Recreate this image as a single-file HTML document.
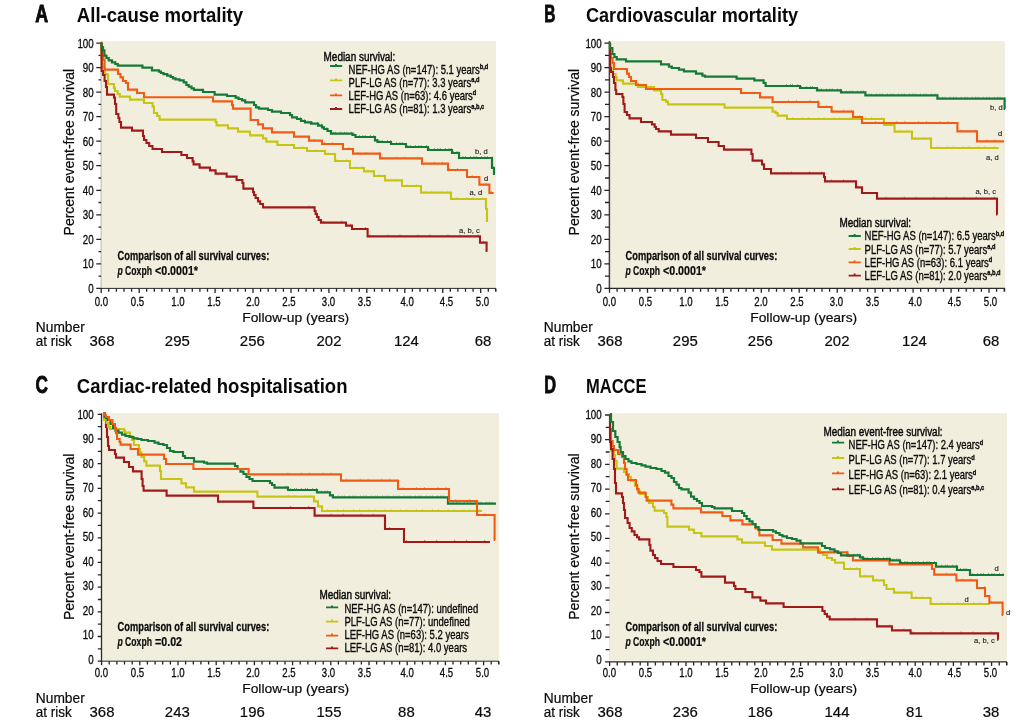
<!DOCTYPE html>
<html><head><meta charset="utf-8"><title>Survival curves</title>
<style>html,body{margin:0;padding:0;background:#fff}svg{display:block}text{font-family:"Liberation Sans",Arial,sans-serif}</style>
</head><body>
<svg width="1030" height="722" viewBox="0 0 1030 722">
<rect width="1030" height="722" fill="#fff"/>
<g>
<rect x="101.2" y="41.0" width="394.8" height="247.4" fill="#f2eedd"/>
<path d="M101.1 41.0V288.4" fill="none" stroke="#8f887f" stroke-width="0.6"/>
<path d="M100.8 288.4H496.0" fill="none" stroke="#2e2a28" stroke-width="1.0"/>
<path d="M101.1 288.4h-4.8M101.1 276.1h-2.6M101.1 263.9h-4.8M101.1 251.6h-2.6M101.1 239.3h-4.8M101.1 227.1h-2.6M101.1 214.8h-4.8M101.1 202.5h-2.6M101.1 190.3h-4.8M101.1 178.0h-2.6M101.1 165.7h-4.8M101.1 153.5h-2.6M101.1 141.2h-4.8M101.1 129.0h-2.6M101.1 116.7h-4.8M101.1 104.4h-2.6M101.1 92.2h-4.8M101.1 79.9h-2.6M101.1 67.6h-4.8M101.1 55.4h-2.6M101.1 43.1h-4.8M101.2 288.4v4.5M108.8 288.4v3.4M116.4 288.4v3.4M124.0 288.4v3.4M131.6 288.4v3.4M139.2 288.4v4.5M146.7 288.4v3.4M154.3 288.4v3.4M161.9 288.4v3.4M169.5 288.4v3.4M177.1 288.4v4.5M184.7 288.4v3.4M192.3 288.4v3.4M199.9 288.4v3.4M207.5 288.4v3.4M215.1 288.4v4.5M222.6 288.4v3.4M230.2 288.4v3.4M237.8 288.4v3.4M245.4 288.4v3.4M253.0 288.4v4.5M260.6 288.4v3.4M268.2 288.4v3.4M275.8 288.4v3.4M283.4 288.4v3.4M291.0 288.4v4.5M298.5 288.4v3.4M306.1 288.4v3.4M313.7 288.4v3.4M321.3 288.4v3.4M328.9 288.4v4.5M336.5 288.4v3.4M344.1 288.4v3.4M351.7 288.4v3.4M359.3 288.4v3.4M366.8 288.4v4.5M374.4 288.4v3.4M382.0 288.4v3.4M389.6 288.4v3.4M397.2 288.4v3.4M404.8 288.4v4.5M412.4 288.4v3.4M420.0 288.4v3.4M427.6 288.4v3.4M435.2 288.4v3.4M442.8 288.4v4.5M450.3 288.4v3.4M457.9 288.4v3.4M465.5 288.4v3.4M473.1 288.4v3.4M480.7 288.4v4.5M488.3 288.4v3.4M495.9 288.4v3.4M495.6 288.4v3.2" fill="none" stroke="#262322" stroke-width="1.3"/>
<clipPath id="cpA"><rect x="298.5" y="41.0" width="394.8" height="247.4"/></clipPath>
<path d="M101.6 42.4V58.0H102.2V64.0H103.0V68.0H104.0H105.0V74.0H106.0H107.0V74.6H108.0V84.0H109.0H114.0V88.0H115.0V91.0H116.6H117.6V94.0H118.6H119.8V96.6H121.0H130.0V99.6H131.0H144.0V103.0H145.4H152.6V106.6H154.0V113.0H155.6H157.1V116.0H158.6H159.6V119.6H160.6H215.6V122.0H216.6V125.4H218.0H228.0V128.4H229.4H238.0V131.6H239.0H250.0V135.4H251.0H263.0V138.4H264.6H266.3V141.6H268.0H277.4V145.0H278.6H294.0V148.0H295.0H307.0V151.0H308.0H325.0V154.0H326.0H334.0H335.0V161.0H336.0H350.0V168.0H351.4H364.0V171.4H365.0H374.0V176.0H375.4H385.0V180.4H386.0H402.0V186.0H403.0H421.0V192.6H422.0H451.0V199.0H451.6H486.0V209.0H487.0V221.0H488.0" fill="none" stroke="#c6c516" stroke-width="2.1" stroke-linejoin="miter"/>
<path d="M101.6 42.4V58.0H102.2V64.0H103.0V68.0H104.0H105.0V74.0H106.0H107.0V74.6H108.0V84.0H109.0H114.0V88.0H115.0V91.0H116.6H117.6V94.0H118.6H119.8V96.6H121.0H130.0V99.6H131.0H144.0V103.0H145.4H152.6V106.6H154.0V113.0H155.6H157.1V116.0H158.6H159.6V119.6H160.6H215.6V122.0H216.6V125.4H218.0H228.0V128.4H229.4H238.0V131.6H239.0H250.0V135.4H251.0H263.0V138.4H264.6H266.3V141.6H268.0H277.4V145.0H278.6H294.0V148.0H295.0H307.0V151.0H308.0H325.0V154.0H326.0H334.0H335.0V161.0H336.0H350.0V168.0H351.4H364.0V171.4H365.0H374.0V176.0H375.4H385.0V180.4H386.0H402.0V186.0H403.0H421.0V192.6H422.0H451.0V199.0H451.6H486.0V209.0H487.0V221.0H488.0" transform="translate(0 -1.3)" clip-path="url(#cpA)" fill="none" stroke="#c6c516" stroke-width="1" stroke-dasharray="0.7 5.3 0.7 9.1"/>
<path d="M101.6 42.4V50.0H102.6V56.0H103.4V60.0H104.6V69.6H105.4H118.0V74.0H119.0H120.5V77.4H122.0H123.0V81.0H124.0H126.0V83.0H128.0V89.6H129.0H137.0V93.0H138.0H144.0V97.2H145.0H213.0V101.4H214.0H232.0V105.0H233.0V108.6H234.4H250.6V120.0H251.6H258.0V124.4H259.0H263.0V128.4H264.0H272.0V132.4H273.0H294.0V136.6H295.0H309.0V140.6H310.0H322.0V144.0H323.0H343.0V149.0H344.0H353.0V153.6H354.0H380.0V158.4H381.0H422.0V163.6H423.0H448.0V170.0H449.0H467.0V177.0H468.0H479.4V184.6H480.4H489.4V193.0H490.4H493.6" fill="none" stroke="#f05c14" stroke-width="2.1" stroke-linejoin="miter"/>
<path d="M101.6 42.4V50.0H102.6V56.0H103.4V60.0H104.6V69.6H105.4H118.0V74.0H119.0H120.5V77.4H122.0H123.0V81.0H124.0H126.0V83.0H128.0V89.6H129.0H137.0V93.0H138.0H144.0V97.2H145.0H213.0V101.4H214.0H232.0V105.0H233.0V108.6H234.4H250.6V120.0H251.6H258.0V124.4H259.0H263.0V128.4H264.0H272.0V132.4H273.0H294.0V136.6H295.0H309.0V140.6H310.0H322.0V144.0H323.0H343.0V149.0H344.0H353.0V153.6H354.0H380.0V158.4H381.0H422.0V163.6H423.0H448.0V170.0H449.0H467.0V177.0H468.0H479.4V184.6H480.4H489.4V193.0H490.4H493.6" transform="translate(0 -1.3)" clip-path="url(#cpA)" fill="none" stroke="#f05c14" stroke-width="1" stroke-dasharray="0.7 7.3 0.7 12.9"/>
<path d="M101.6 42.4V68.0V71.0H103.0V75.0H104.6V81.0H106.0V87.0H107.0V94.6H108.0H114.0V97.6H115.0V104.0H116.2V114.0H117.4H118.4V118.0H119.4V122.0H121.0V127.6H122.4H132.0V130.6H133.0H143.0V136.0H144.0V140.0H145.4H146.4V143.0H147.4H149.2V146.0H151.0H152.5V149.0H154.0H162.0V152.0H163.0H181.4V155.0H182.6H187.0V158.0H188.0H192.6V161.4H193.6V164.4H194.6H199.6V167.6H200.6H210.0V170.4H211.0H215.6V173.6H216.6H226.6V176.6H227.6H236.6V180.0H237.6H242.4V183.0H243.4V188.6H244.4H253.0V192.0H254.0V195.0H255.6V198.0H257.0H258.0V201.4H259.0H260.2V204.0H261.4H263.0V207.4H264.6H295.0H314.6V211.0H315.6V214.0H317.0V217.0H318.6V220.0H320.0H321.0V222.6H322.0H346.0V225.6H347.0H352.0V229.0H353.0H367.6V236.4H368.6H480.0V242.6H481.0H486.6V251.0H487.4" fill="none" stroke="#a11a1a" stroke-width="2.1" stroke-linejoin="miter"/>
<path d="M101.6 42.4V68.0V71.0H103.0V75.0H104.6V81.0H106.0V87.0H107.0V94.6H108.0H114.0V97.6H115.0V104.0H116.2V114.0H117.4H118.4V118.0H119.4V122.0H121.0V127.6H122.4H132.0V130.6H133.0H143.0V136.0H144.0V140.0H145.4H146.4V143.0H147.4H149.2V146.0H151.0H152.5V149.0H154.0H162.0V152.0H163.0H181.4V155.0H182.6H187.0V158.0H188.0H192.6V161.4H193.6V164.4H194.6H199.6V167.6H200.6H210.0V170.4H211.0H215.6V173.6H216.6H226.6V176.6H227.6H236.6V180.0H237.6H242.4V183.0H243.4V188.6H244.4H253.0V192.0H254.0V195.0H255.6V198.0H257.0H258.0V201.4H259.0H260.2V204.0H261.4H263.0V207.4H264.6H295.0H314.6V211.0H315.6V214.0H317.0V217.0H318.6V220.0H320.0H321.0V222.6H322.0H346.0V225.6H347.0H352.0V229.0H353.0H367.6V236.4H368.6H480.0V242.6H481.0H486.6V251.0H487.4" transform="translate(0 -1.3)" clip-path="url(#cpA)" fill="none" stroke="#a11a1a" stroke-width="1" stroke-dasharray="0.7 11.3 0.7 17.3"/>
<path d="M101.6 42.4V47.0H103.0V50.4H104.4V55.6H105.4H106.4V58.0H107.4H108.7V60.4H110.0H112.0V62.4H114.0H115.3V64.0H116.6H117.8V65.6H119.0H142.4V67.6H143.0H152.0V70.4H152.6H159.0V71.6H160.0H161.0V73.0H162.0H163.5V74.2H165.0H167.2V75.6H169.4H170.7V77.0H172.0H173.0V78.4H174.0H175.5V79.4H177.0H179.5V80.4H182.0H183.7V82.4H185.4H186.4V85.0H187.4H188.7V86.6H190.0H191.5V88.4H193.0H194.0V89.8H195.0H203.0V92.0H204.0H214.6V94.6H216.0H227.0V96.0H228.6H235.6V97.6H237.0H238.5V99.0H240.0H242.0V100.4H244.0H245.2V102.4H246.4H254.0V105.0H255.0H256.0V107.4H257.0H259.0V108.6H261.0H265.0H268.0V110.0H271.0H272.0V111.6H273.0H280.0H281.0V113.0H282.0H290.0V115.0H291.0H292.0V117.4H293.0H295.0H297.0V119.0H299.0H301.0V121.0H303.0H305.0V122.4H307.0H311.0V123.6H315.0H318.0V125.6H321.0H322.0V127.3H324.0V129.0H325.0H327.5V131.0H330.0H331.0V133.6H332.0H351.0H352.5V135.0H354.0H355.5V137.0H357.0H374.0H375.0V140.4H376.0H377.5V142.0H379.0H391.0V144.0H392.0H405.0H406.0V147.0H407.0H427.0H428.0V150.0H429.0H451.0H452.0V153.0H453.0H459.0V158.0H460.6H492.0V168.0H493.0H494.0V174.0H495.0" fill="none" stroke="#147a36" stroke-width="2.2" stroke-linejoin="miter"/>
<path d="M101.6 42.4V47.0H103.0V50.4H104.4V55.6H105.4H106.4V58.0H107.4H108.7V60.4H110.0H112.0V62.4H114.0H115.3V64.0H116.6H117.8V65.6H119.0H142.4V67.6H143.0H152.0V70.4H152.6H159.0V71.6H160.0H161.0V73.0H162.0H163.5V74.2H165.0H167.2V75.6H169.4H170.7V77.0H172.0H173.0V78.4H174.0H175.5V79.4H177.0H179.5V80.4H182.0H183.7V82.4H185.4H186.4V85.0H187.4H188.7V86.6H190.0H191.5V88.4H193.0H194.0V89.8H195.0H203.0V92.0H204.0H214.6V94.6H216.0H227.0V96.0H228.6H235.6V97.6H237.0H238.5V99.0H240.0H242.0V100.4H244.0H245.2V102.4H246.4H254.0V105.0H255.0H256.0V107.4H257.0H259.0V108.6H261.0H265.0H268.0V110.0H271.0H272.0V111.6H273.0H280.0H281.0V113.0H282.0H290.0V115.0H291.0H292.0V117.4H293.0H295.0H297.0V119.0H299.0H301.0V121.0H303.0H305.0V122.4H307.0H311.0V123.6H315.0H318.0V125.6H321.0H322.0V127.3H324.0V129.0H325.0H327.5V131.0H330.0H331.0V133.6H332.0H351.0H352.5V135.0H354.0H355.5V137.0H357.0H374.0H375.0V140.4H376.0H377.5V142.0H379.0H391.0V144.0H392.0H405.0H406.0V147.0H407.0H427.0H428.0V150.0H429.0H451.0H452.0V153.0H453.0H459.0V158.0H460.6H492.0V168.0H493.0H494.0V174.0H495.0" transform="translate(0 -1.3)" clip-path="url(#cpA)" fill="none" stroke="#147a36" stroke-width="1" stroke-dasharray="0.7 2.9 0.7 1.6 0.7 4.4"/>
<text transform="translate(93.7 292.6) scale(0.815 1)" font-size="12" font-weight="normal" text-anchor="end" fill="#0a0a0a"  stroke="#0a0a0a" stroke-width="0.30">0</text>
<text transform="translate(93.7 268.1) scale(0.815 1)" font-size="12" font-weight="normal" text-anchor="end" fill="#0a0a0a"  stroke="#0a0a0a" stroke-width="0.30">10</text>
<text transform="translate(93.7 243.7) scale(0.815 1)" font-size="12" font-weight="normal" text-anchor="end" fill="#0a0a0a"  stroke="#0a0a0a" stroke-width="0.30">20</text>
<text transform="translate(93.7 219.2) scale(0.815 1)" font-size="12" font-weight="normal" text-anchor="end" fill="#0a0a0a"  stroke="#0a0a0a" stroke-width="0.30">30</text>
<text transform="translate(93.7 194.7) scale(0.815 1)" font-size="12" font-weight="normal" text-anchor="end" fill="#0a0a0a"  stroke="#0a0a0a" stroke-width="0.30">40</text>
<text transform="translate(93.7 170.3) scale(0.815 1)" font-size="12" font-weight="normal" text-anchor="end" fill="#0a0a0a"  stroke="#0a0a0a" stroke-width="0.30">50</text>
<text transform="translate(93.7 145.8) scale(0.815 1)" font-size="12" font-weight="normal" text-anchor="end" fill="#0a0a0a"  stroke="#0a0a0a" stroke-width="0.30">60</text>
<text transform="translate(93.7 121.3) scale(0.815 1)" font-size="12" font-weight="normal" text-anchor="end" fill="#0a0a0a"  stroke="#0a0a0a" stroke-width="0.30">70</text>
<text transform="translate(93.7 96.8) scale(0.815 1)" font-size="12" font-weight="normal" text-anchor="end" fill="#0a0a0a"  stroke="#0a0a0a" stroke-width="0.30">80</text>
<text transform="translate(93.7 72.4) scale(0.815 1)" font-size="12" font-weight="normal" text-anchor="end" fill="#0a0a0a"  stroke="#0a0a0a" stroke-width="0.30">90</text>
<text transform="translate(93.7 47.9) scale(0.815 1)" font-size="12" font-weight="normal" text-anchor="end" fill="#0a0a0a"  stroke="#0a0a0a" stroke-width="0.30">100</text>
<text transform="translate(101.4 305.6) scale(0.800 1)" font-size="12" font-weight="normal" text-anchor="middle" fill="#0a0a0a"  stroke="#0a0a0a" stroke-width="0.30">0.0</text>
<text transform="translate(137.5 305.6) scale(0.800 1)" font-size="12" font-weight="normal" text-anchor="middle" fill="#0a0a0a"  stroke="#0a0a0a" stroke-width="0.30">0.5</text>
<text transform="translate(178.0 305.6) scale(0.800 1)" font-size="12" font-weight="normal" text-anchor="middle" fill="#0a0a0a"  stroke="#0a0a0a" stroke-width="0.30">1.0</text>
<text transform="translate(214.0 305.6) scale(0.800 1)" font-size="12" font-weight="normal" text-anchor="middle" fill="#0a0a0a"  stroke="#0a0a0a" stroke-width="0.30">1.5</text>
<text transform="translate(253.0 305.6) scale(0.800 1)" font-size="12" font-weight="normal" text-anchor="middle" fill="#0a0a0a"  stroke="#0a0a0a" stroke-width="0.30">2.0</text>
<text transform="translate(289.0 305.6) scale(0.800 1)" font-size="12" font-weight="normal" text-anchor="middle" fill="#0a0a0a"  stroke="#0a0a0a" stroke-width="0.30">2.5</text>
<text transform="translate(328.5 305.6) scale(0.800 1)" font-size="12" font-weight="normal" text-anchor="middle" fill="#0a0a0a"  stroke="#0a0a0a" stroke-width="0.30">3.0</text>
<text transform="translate(364.5 305.6) scale(0.800 1)" font-size="12" font-weight="normal" text-anchor="middle" fill="#0a0a0a"  stroke="#0a0a0a" stroke-width="0.30">3.5</text>
<text transform="translate(407.2 305.6) scale(0.800 1)" font-size="12" font-weight="normal" text-anchor="middle" fill="#0a0a0a"  stroke="#0a0a0a" stroke-width="0.30">4.0</text>
<text transform="translate(446.5 305.6) scale(0.800 1)" font-size="12" font-weight="normal" text-anchor="middle" fill="#0a0a0a"  stroke="#0a0a0a" stroke-width="0.30">4.5</text>
<text transform="translate(482.5 305.6) scale(0.800 1)" font-size="12" font-weight="normal" text-anchor="middle" fill="#0a0a0a"  stroke="#0a0a0a" stroke-width="0.30">5.0</text>
<text transform="translate(74.4 152.2) rotate(-90) scale(0.980 1)" font-size="14.3" text-anchor="middle" fill="#0a0a0a" stroke="#0a0a0a" stroke-width="0.2">Percent event-free survival</text>
<text transform="translate(295.7 322.4) scale(1.020 1)" font-size="13.6" font-weight="normal" text-anchor="middle" fill="#0a0a0a"  stroke="#0a0a0a" stroke-width="0.20">Follow-up (years)</text>
<text transform="translate(35.8 331.6) scale(0.950 1)" font-size="14.5" font-weight="normal" text-anchor="start" fill="#0a0a0a"  stroke="#0a0a0a" stroke-width="0.20">Number</text>
<text transform="translate(35.8 346.4) scale(0.930 1)" font-size="14.5" font-weight="normal" text-anchor="start" fill="#0a0a0a"  stroke="#0a0a0a" stroke-width="0.20">at risk</text>
<text transform="translate(102.0 346.4) scale(1.030 1)" font-size="14.5" font-weight="normal" text-anchor="middle" fill="#0a0a0a"  stroke="#0a0a0a" stroke-width="0.20">368</text>
<text transform="translate(177.3 346.4) scale(1.030 1)" font-size="14.5" font-weight="normal" text-anchor="middle" fill="#0a0a0a"  stroke="#0a0a0a" stroke-width="0.20">295</text>
<text transform="translate(252.3 346.4) scale(1.030 1)" font-size="14.5" font-weight="normal" text-anchor="middle" fill="#0a0a0a"  stroke="#0a0a0a" stroke-width="0.20">256</text>
<text transform="translate(329.0 346.4) scale(1.030 1)" font-size="14.5" font-weight="normal" text-anchor="middle" fill="#0a0a0a"  stroke="#0a0a0a" stroke-width="0.20">202</text>
<text transform="translate(406.4 346.4) scale(1.030 1)" font-size="14.5" font-weight="normal" text-anchor="middle" fill="#0a0a0a"  stroke="#0a0a0a" stroke-width="0.20">124</text>
<text transform="translate(483.0 346.4) scale(1.030 1)" font-size="14.5" font-weight="normal" text-anchor="middle" fill="#0a0a0a"  stroke="#0a0a0a" stroke-width="0.20">68</text>
<text x="35.2" y="22.2" font-size="23.5" font-weight="bold" textLength="12.9" lengthAdjust="spacingAndGlyphs" fill="#0a0a0a" stroke="#0a0a0a" stroke-width="0.9">A</text>
<text x="76.8" y="22.2" font-size="21" font-weight="bold" textLength="166.3" lengthAdjust="spacingAndGlyphs" fill="#0a0a0a">All-cause mortality</text>
<text transform="translate(117.6 259.7) scale(0.762 1)" font-size="12.2" font-weight="bold" text-anchor="start" fill="#0a0a0a"  stroke="#0a0a0a" stroke-width="0.25">Comparison of all survival curves:</text>
<text x="117.4" y="274.5" font-size="12.2" font-weight="bold" fill="#0a0a0a" stroke="#0a0a0a" stroke-width="0.2" textLength="34.6" lengthAdjust="spacingAndGlyphs"><tspan font-style="italic">p</tspan> Coxph</text>
<text x="155.0" y="274.5" font-size="12.2" font-weight="bold" fill="#0a0a0a" stroke="#0a0a0a" stroke-width="0.2" textLength="43.0" lengthAdjust="spacingAndGlyphs">&lt;0.0001*</text>
</g>
<g>
<rect x="609.5" y="41.0" width="395.5" height="247.4" fill="#f2eedd"/>
<path d="M609.4 41.0V288.4" fill="none" stroke="#45403c" stroke-width="1.5"/>
<path d="M608.6 288.4H1005.0" fill="none" stroke="#2e2a28" stroke-width="1.4"/>
<path d="M609.4 288.4h-5.0M609.4 276.1h-4.4M609.4 263.9h-5.0M609.4 251.6h-4.4M609.4 239.3h-5.0M609.4 227.1h-4.4M609.4 214.8h-5.0M609.4 202.5h-4.4M609.4 190.3h-5.0M609.4 178.0h-4.4M609.4 165.7h-5.0M609.4 153.5h-4.4M609.4 141.2h-5.0M609.4 129.0h-4.4M609.4 116.7h-5.0M609.4 104.4h-4.4M609.4 92.2h-5.0M609.4 79.9h-4.4M609.4 67.6h-5.0M609.4 55.4h-4.4M609.4 43.1h-5.0M609.5 288.4v4.4M617.1 288.4v3.4M624.7 288.4v3.4M632.3 288.4v3.4M639.9 288.4v3.4M647.5 288.4v4.4M655.0 288.4v3.4M662.6 288.4v3.4M670.2 288.4v3.4M677.8 288.4v3.4M685.4 288.4v4.4M693.0 288.4v3.4M700.6 288.4v3.4M708.2 288.4v3.4M715.8 288.4v3.4M723.4 288.4v4.4M730.9 288.4v3.4M738.5 288.4v3.4M746.1 288.4v3.4M753.7 288.4v3.4M761.3 288.4v4.4M768.9 288.4v3.4M776.5 288.4v3.4M784.1 288.4v3.4M791.7 288.4v3.4M799.2 288.4v4.4M806.8 288.4v3.4M814.4 288.4v3.4M822.0 288.4v3.4M829.6 288.4v3.4M837.2 288.4v4.4M844.8 288.4v3.4M852.4 288.4v3.4M860.0 288.4v3.4M867.6 288.4v3.4M875.1 288.4v4.4M882.7 288.4v3.4M890.3 288.4v3.4M897.9 288.4v3.4M905.5 288.4v3.4M913.1 288.4v4.4M920.7 288.4v3.4M928.3 288.4v3.4M935.9 288.4v3.4M943.5 288.4v3.4M951.1 288.4v4.4M958.6 288.4v3.4M966.2 288.4v3.4M973.8 288.4v3.4M981.4 288.4v3.4M989.0 288.4v4.4M996.6 288.4v3.4M1004.2 288.4v3.4M1004.6 288.4v3.2" fill="none" stroke="#262322" stroke-width="1.3"/>
<clipPath id="cpB"><rect x="784.1" y="41.0" width="395.5" height="247.4"/></clipPath>
<path d="M610.0 42.4V58.0H610.4V65.0H611.4V70.0H613.0V74.0H614.6H615.6V77.0H616.6V80.4H618.0H623.0V83.6H624.0H638.0V87.0H639.4H654.0V90.4H655.4H661.0V94.0H662.4V100.0H664.0H666.0V101.6H668.0V104.4H669.4H724.6V107.6H726.0H772.6V111.6H773.6H775.6V113.0H777.6V115.6H778.6H787.0V119.0H788.4H803.0H884.0V125.0H885.0H894.6V131.6H895.6H912.0V138.6H913.0H931.0V148.0H932.0H998.6" fill="none" stroke="#c6c516" stroke-width="2.1" stroke-linejoin="miter"/>
<path d="M610.0 42.4V58.0H610.4V65.0H611.4V70.0H613.0V74.0H614.6H615.6V77.0H616.6V80.4H618.0H623.0V83.6H624.0H638.0V87.0H639.4H654.0V90.4H655.4H661.0V94.0H662.4V100.0H664.0H666.0V101.6H668.0V104.4H669.4H724.6V107.6H726.0H772.6V111.6H773.6H775.6V113.0H777.6V115.6H778.6H787.0V119.0H788.4H803.0H884.0V125.0H885.0H894.6V131.6H895.6H912.0V138.6H913.0H931.0V148.0H932.0H998.6" transform="translate(0 -1.3)" clip-path="url(#cpB)" fill="none" stroke="#c6c516" stroke-width="1" stroke-dasharray="0.7 5.3 0.7 9.1"/>
<path d="M610.0 42.4V54.0H611.0V58.0H612.6V63.0H614.0V69.0H614.6H627.0V73.6H628.0H629.0V77.0H630.0H631.0V81.0H632.0H636.0V85.0H637.4H646.0V89.0H647.4H741.0V93.0H742.0H760.0V97.4H761.0H772.6V102.0H773.6H803.0H818.4V107.0H819.4H831.6V111.6H832.6H853.0V117.0H854.0H862.0V123.0H863.4H957.4V131.4H958.4H977.0V141.4H978.0H1004.0" fill="none" stroke="#f05c14" stroke-width="2.1" stroke-linejoin="miter"/>
<path d="M610.0 42.4V54.0H611.0V58.0H612.6V63.0H614.0V69.0H614.6H627.0V73.6H628.0H629.0V77.0H630.0H631.0V81.0H632.0H636.0V85.0H637.4H646.0V89.0H647.4H741.0V93.0H742.0H760.0V97.4H761.0H772.6V102.0H773.6H803.0H818.4V107.0H819.4H831.6V111.6H832.6H853.0V117.0H854.0H862.0V123.0H863.4H957.4V131.4H958.4H977.0V141.4H978.0H1004.0" transform="translate(0 -1.3)" clip-path="url(#cpB)" fill="none" stroke="#f05c14" stroke-width="1" stroke-dasharray="0.7 7.3 0.7 12.9"/>
<path d="M610.0 42.4V68.0H611.0V72.0H612.0H613.0V77.0H614.0V83.0H615.4V90.0H616.2V94.0H617.4H622.4V97.0H623.4V104.0H624.6V112.0H626.0H627.0V115.0H628.0H629.5V118.4H631.0H641.0V122.0H642.4H652.0V124.4H653.4H654.7V127.0H656.0V129.0H657.4H658.7V131.4H660.0H671.0V134.6H672.4H696.0V138.0H697.4H708.0V142.0H709.4H718.6V146.0H720.0H724.0V149.6H725.4H751.4V154.0H752.6V160.6H754.0H762.0V164.4H763.0H764.0V169.0H765.0H770.0H771.0V173.4H772.0H803.0H824.0V177.0H825.0V181.4H826.6H856.0V187.4H857.0H862.0V193.0H863.0H877.0V198.6H878.0H997.0V214.4H997.4" fill="none" stroke="#a11a1a" stroke-width="2.1" stroke-linejoin="miter"/>
<path d="M610.0 42.4V68.0H611.0V72.0H612.0H613.0V77.0H614.0V83.0H615.4V90.0H616.2V94.0H617.4H622.4V97.0H623.4V104.0H624.6V112.0H626.0H627.0V115.0H628.0H629.5V118.4H631.0H641.0V122.0H642.4H652.0V124.4H653.4H654.7V127.0H656.0V129.0H657.4H658.7V131.4H660.0H671.0V134.6H672.4H696.0V138.0H697.4H708.0V142.0H709.4H718.6V146.0H720.0H724.0V149.6H725.4H751.4V154.0H752.6V160.6H754.0H762.0V164.4H763.0H764.0V169.0H765.0H770.0H771.0V173.4H772.0H803.0H824.0V177.0H825.0V181.4H826.6H856.0V187.4H857.0H862.0V193.0H863.0H877.0V198.6H878.0H997.0V214.4H997.4" transform="translate(0 -1.3)" clip-path="url(#cpB)" fill="none" stroke="#a11a1a" stroke-width="1" stroke-dasharray="0.7 11.3 0.7 17.3"/>
<path d="M610.0 42.4V48.0H611.4H612.4V54.0H613.4H614.4V57.0H615.4H616.7V59.4H618.0H626.0V61.4H627.0H661.0V64.4H662.0H669.0V66.6H670.6H671.8V68.0H673.0H678.0H679.0V69.6H680.0H684.0V71.4H685.4H696.0V73.6H697.4H702.4V75.6H704.0H705.0V76.6H706.0H736.6V78.6H738.0H754.4V80.4H756.0H763.6V83.0H764.6H765.6V86.0H766.6H800.0V88.0H801.4H803.0H817.0V90.4H818.4H841.0V92.4H842.4H865.4V95.4H866.6H937.4V98.6H938.6H1004.6V109.0H1005.0" fill="none" stroke="#147a36" stroke-width="2.2" stroke-linejoin="miter"/>
<path d="M610.0 42.4V48.0H611.4H612.4V54.0H613.4H614.4V57.0H615.4H616.7V59.4H618.0H626.0V61.4H627.0H661.0V64.4H662.0H669.0V66.6H670.6H671.8V68.0H673.0H678.0H679.0V69.6H680.0H684.0V71.4H685.4H696.0V73.6H697.4H702.4V75.6H704.0H705.0V76.6H706.0H736.6V78.6H738.0H754.4V80.4H756.0H763.6V83.0H764.6H765.6V86.0H766.6H800.0V88.0H801.4H803.0H817.0V90.4H818.4H841.0V92.4H842.4H865.4V95.4H866.6H937.4V98.6H938.6H1004.6V109.0H1005.0" transform="translate(0 -1.3)" clip-path="url(#cpB)" fill="none" stroke="#147a36" stroke-width="1" stroke-dasharray="0.7 2.9 0.7 1.6 0.7 4.4"/>
<text transform="translate(601.7 292.6) scale(0.815 1)" font-size="12" font-weight="normal" text-anchor="end" fill="#0a0a0a"  stroke="#0a0a0a" stroke-width="0.30">0</text>
<text transform="translate(601.7 268.1) scale(0.815 1)" font-size="12" font-weight="normal" text-anchor="end" fill="#0a0a0a"  stroke="#0a0a0a" stroke-width="0.30">10</text>
<text transform="translate(601.7 243.7) scale(0.815 1)" font-size="12" font-weight="normal" text-anchor="end" fill="#0a0a0a"  stroke="#0a0a0a" stroke-width="0.30">20</text>
<text transform="translate(601.7 219.2) scale(0.815 1)" font-size="12" font-weight="normal" text-anchor="end" fill="#0a0a0a"  stroke="#0a0a0a" stroke-width="0.30">30</text>
<text transform="translate(601.7 194.7) scale(0.815 1)" font-size="12" font-weight="normal" text-anchor="end" fill="#0a0a0a"  stroke="#0a0a0a" stroke-width="0.30">40</text>
<text transform="translate(601.7 170.3) scale(0.815 1)" font-size="12" font-weight="normal" text-anchor="end" fill="#0a0a0a"  stroke="#0a0a0a" stroke-width="0.30">50</text>
<text transform="translate(601.7 145.8) scale(0.815 1)" font-size="12" font-weight="normal" text-anchor="end" fill="#0a0a0a"  stroke="#0a0a0a" stroke-width="0.30">60</text>
<text transform="translate(601.7 121.3) scale(0.815 1)" font-size="12" font-weight="normal" text-anchor="end" fill="#0a0a0a"  stroke="#0a0a0a" stroke-width="0.30">70</text>
<text transform="translate(601.7 96.8) scale(0.815 1)" font-size="12" font-weight="normal" text-anchor="end" fill="#0a0a0a"  stroke="#0a0a0a" stroke-width="0.30">80</text>
<text transform="translate(601.7 72.4) scale(0.815 1)" font-size="12" font-weight="normal" text-anchor="end" fill="#0a0a0a"  stroke="#0a0a0a" stroke-width="0.30">90</text>
<text transform="translate(601.7 47.9) scale(0.815 1)" font-size="12" font-weight="normal" text-anchor="end" fill="#0a0a0a"  stroke="#0a0a0a" stroke-width="0.30">100</text>
<text transform="translate(609.4 305.6) scale(0.800 1)" font-size="12" font-weight="normal" text-anchor="middle" fill="#0a0a0a"  stroke="#0a0a0a" stroke-width="0.30">0.0</text>
<text transform="translate(645.5 305.6) scale(0.800 1)" font-size="12" font-weight="normal" text-anchor="middle" fill="#0a0a0a"  stroke="#0a0a0a" stroke-width="0.30">0.5</text>
<text transform="translate(686.0 305.6) scale(0.800 1)" font-size="12" font-weight="normal" text-anchor="middle" fill="#0a0a0a"  stroke="#0a0a0a" stroke-width="0.30">1.0</text>
<text transform="translate(722.0 305.6) scale(0.800 1)" font-size="12" font-weight="normal" text-anchor="middle" fill="#0a0a0a"  stroke="#0a0a0a" stroke-width="0.30">1.5</text>
<text transform="translate(761.0 305.6) scale(0.800 1)" font-size="12" font-weight="normal" text-anchor="middle" fill="#0a0a0a"  stroke="#0a0a0a" stroke-width="0.30">2.0</text>
<text transform="translate(797.0 305.6) scale(0.800 1)" font-size="12" font-weight="normal" text-anchor="middle" fill="#0a0a0a"  stroke="#0a0a0a" stroke-width="0.30">2.5</text>
<text transform="translate(836.5 305.6) scale(0.800 1)" font-size="12" font-weight="normal" text-anchor="middle" fill="#0a0a0a"  stroke="#0a0a0a" stroke-width="0.30">3.0</text>
<text transform="translate(872.5 305.6) scale(0.800 1)" font-size="12" font-weight="normal" text-anchor="middle" fill="#0a0a0a"  stroke="#0a0a0a" stroke-width="0.30">3.5</text>
<text transform="translate(915.2 305.6) scale(0.800 1)" font-size="12" font-weight="normal" text-anchor="middle" fill="#0a0a0a"  stroke="#0a0a0a" stroke-width="0.30">4.0</text>
<text transform="translate(954.5 305.6) scale(0.800 1)" font-size="12" font-weight="normal" text-anchor="middle" fill="#0a0a0a"  stroke="#0a0a0a" stroke-width="0.30">4.5</text>
<text transform="translate(990.5 305.6) scale(0.800 1)" font-size="12" font-weight="normal" text-anchor="middle" fill="#0a0a0a"  stroke="#0a0a0a" stroke-width="0.30">5.0</text>
<text transform="translate(579.0 152.2) rotate(-90) scale(0.980 1)" font-size="14.3" text-anchor="middle" fill="#0a0a0a" stroke="#0a0a0a" stroke-width="0.2">Percent event-free survival</text>
<text transform="translate(803.7 322.4) scale(1.020 1)" font-size="13.6" font-weight="normal" text-anchor="middle" fill="#0a0a0a"  stroke="#0a0a0a" stroke-width="0.20">Follow-up (years)</text>
<text transform="translate(543.8 331.6) scale(0.950 1)" font-size="14.5" font-weight="normal" text-anchor="start" fill="#0a0a0a"  stroke="#0a0a0a" stroke-width="0.20">Number</text>
<text transform="translate(543.8 346.4) scale(0.930 1)" font-size="14.5" font-weight="normal" text-anchor="start" fill="#0a0a0a"  stroke="#0a0a0a" stroke-width="0.20">at risk</text>
<text transform="translate(610.0 346.4) scale(1.030 1)" font-size="14.5" font-weight="normal" text-anchor="middle" fill="#0a0a0a"  stroke="#0a0a0a" stroke-width="0.20">368</text>
<text transform="translate(685.3 346.4) scale(1.030 1)" font-size="14.5" font-weight="normal" text-anchor="middle" fill="#0a0a0a"  stroke="#0a0a0a" stroke-width="0.20">295</text>
<text transform="translate(760.3 346.4) scale(1.030 1)" font-size="14.5" font-weight="normal" text-anchor="middle" fill="#0a0a0a"  stroke="#0a0a0a" stroke-width="0.20">256</text>
<text transform="translate(837.0 346.4) scale(1.030 1)" font-size="14.5" font-weight="normal" text-anchor="middle" fill="#0a0a0a"  stroke="#0a0a0a" stroke-width="0.20">202</text>
<text transform="translate(914.4 346.4) scale(1.030 1)" font-size="14.5" font-weight="normal" text-anchor="middle" fill="#0a0a0a"  stroke="#0a0a0a" stroke-width="0.20">124</text>
<text transform="translate(991.0 346.4) scale(1.030 1)" font-size="14.5" font-weight="normal" text-anchor="middle" fill="#0a0a0a"  stroke="#0a0a0a" stroke-width="0.20">68</text>
<text x="544.2" y="22.2" font-size="23.5" font-weight="bold" textLength="11.2" lengthAdjust="spacingAndGlyphs" fill="#0a0a0a" stroke="#0a0a0a" stroke-width="0.9">B</text>
<text x="586.0" y="22.2" font-size="21" font-weight="bold" textLength="212.0" lengthAdjust="spacingAndGlyphs" fill="#0a0a0a">Cardiovascular mortality</text>
<text transform="translate(625.6 259.7) scale(0.762 1)" font-size="12.2" font-weight="bold" text-anchor="start" fill="#0a0a0a"  stroke="#0a0a0a" stroke-width="0.25">Comparison of all survival curves:</text>
<text x="625.4" y="274.5" font-size="12.2" font-weight="bold" fill="#0a0a0a" stroke="#0a0a0a" stroke-width="0.2" textLength="34.6" lengthAdjust="spacingAndGlyphs"><tspan font-style="italic">p</tspan> Coxph</text>
<text x="663.0" y="274.5" font-size="12.2" font-weight="bold" fill="#0a0a0a" stroke="#0a0a0a" stroke-width="0.2" textLength="43.0" lengthAdjust="spacingAndGlyphs">&lt;0.0001*</text>
</g>
<g>
<rect x="101.6" y="413.2" width="397.4" height="248.0" fill="#f2eedd"/>
<path d="M101.5 413.2V661.2" fill="none" stroke="#2e2a28" stroke-width="1.3"/>
<path d="M100.8 661.2H499.0" fill="none" stroke="#2e2a28" stroke-width="1.0"/>
<path d="M101.5 661.2h-3.8M101.5 648.9h-3.6M101.5 636.5h-3.8M101.5 624.2h-3.6M101.5 611.8h-3.8M101.5 599.5h-3.6M101.5 587.1h-3.8M101.5 574.8h-3.6M101.5 562.4h-3.8M101.5 550.1h-3.6M101.5 537.8h-3.8M101.5 525.4h-3.6M101.5 513.1h-3.8M101.5 500.7h-3.6M101.5 488.4h-3.8M101.5 476.0h-3.6M101.5 463.7h-3.8M101.5 451.3h-3.6M101.5 439.0h-3.8M101.5 426.6h-3.6M101.5 414.3h-3.8M101.6 661.2v4.0M109.2 661.2v3.4M116.9 661.2v3.4M124.5 661.2v3.4M132.2 661.2v3.4M139.8 661.2v4.0M147.4 661.2v3.4M155.1 661.2v3.4M162.7 661.2v3.4M170.4 661.2v3.4M178.0 661.2v4.0M185.6 661.2v3.4M193.3 661.2v3.4M200.9 661.2v3.4M208.6 661.2v3.4M216.2 661.2v4.0M223.8 661.2v3.4M231.5 661.2v3.4M239.1 661.2v3.4M246.8 661.2v3.4M254.4 661.2v4.0M262.0 661.2v3.4M269.7 661.2v3.4M277.3 661.2v3.4M285.0 661.2v3.4M292.6 661.2v4.0M300.2 661.2v3.4M307.9 661.2v3.4M315.5 661.2v3.4M323.2 661.2v3.4M330.8 661.2v4.0M338.4 661.2v3.4M346.1 661.2v3.4M353.7 661.2v3.4M361.4 661.2v3.4M369.0 661.2v4.0M376.6 661.2v3.4M384.3 661.2v3.4M391.9 661.2v3.4M399.6 661.2v3.4M407.2 661.2v4.0M414.8 661.2v3.4M422.5 661.2v3.4M430.1 661.2v3.4M437.8 661.2v3.4M445.4 661.2v4.0M453.0 661.2v3.4M460.7 661.2v3.4M468.3 661.2v3.4M476.0 661.2v3.4M483.6 661.2v4.0M491.2 661.2v3.4M498.9 661.2v3.4M498.6 661.2v3.2" fill="none" stroke="#262322" stroke-width="1.3"/>
<clipPath id="cpC"><rect x="285.0" y="413.2" width="397.4" height="248.0"/></clipPath>
<path d="M103.0 413.4H104.5V418.0H106.0V427.0H107.0V437.0H108.0V446.0H109.0V450.0H110.0H115.0V454.0H116.0V457.6H117.0H124.0V462.0H125.0H129.0V467.0H130.0H133.0V471.4H134.0H141.6V479.0H142.6V486.0H143.6V490.6H145.0H166.6V495.6H167.6H218.0V501.6H219.0H253.4V508.0H254.4H295.0H314.6V515.6H315.6H385.0V529.0H386.0H404.0V542.0H405.0H490.0" fill="none" stroke="#a11a1a" stroke-width="2.1" stroke-linejoin="miter"/>
<path d="M103.0 413.4H104.5V418.0H106.0V427.0H107.0V437.0H108.0V446.0H109.0V450.0H110.0H115.0V454.0H116.0V457.6H117.0H124.0V462.0H125.0H129.0V467.0H130.0H133.0V471.4H134.0H141.6V479.0H142.6V486.0H143.6V490.6H145.0H166.6V495.6H167.6H218.0V501.6H219.0H253.4V508.0H254.4H295.0H314.6V515.6H315.6H385.0V529.0H386.0H404.0V542.0H405.0H490.0" transform="translate(0 -1.3)" clip-path="url(#cpC)" fill="none" stroke="#a11a1a" stroke-width="1" stroke-dasharray="0.7 11.3 0.7 17.3"/>
<path d="M103.0 413.4H104.0V420.0H105.0H106.5V423.0H108.0V426.6H109.0H110.0V429.0H111.0H124.0V430.6H125.0V432.6H126.0H130.0V436.0H131.0H132.0V440.0H133.0H134.0V445.0H135.0H139.0V449.0H140.0V452.6H141.4V457.0H143.0H144.2V461.4H145.4H146.4V465.6H147.4H160.0V471.0H161.0V479.0H162.0H181.4V483.4H182.4H186.0V487.4H187.0H194.0V491.6H195.4H257.4V496.6H258.6H295.0H314.0V501.4H315.0H318.0V506.4H319.0H322.0V511.0H323.0H482.0" fill="none" stroke="#c6c516" stroke-width="2.1" stroke-linejoin="miter"/>
<path d="M103.0 413.4H104.0V420.0H105.0H106.5V423.0H108.0V426.6H109.0H110.0V429.0H111.0H124.0V430.6H125.0V432.6H126.0H130.0V436.0H131.0H132.0V440.0H133.0H134.0V445.0H135.0H139.0V449.0H140.0V452.6H141.4V457.0H143.0H144.2V461.4H145.4H146.4V465.6H147.4H160.0V471.0H161.0V479.0H162.0H181.4V483.4H182.4H186.0V487.4H187.0H194.0V491.6H195.4H257.4V496.6H258.6H295.0H314.0V501.4H315.0H318.0V506.4H319.0H322.0V511.0H323.0H482.0" transform="translate(0 -1.3)" clip-path="url(#cpC)" fill="none" stroke="#c6c516" stroke-width="1" stroke-dasharray="0.7 5.3 0.7 9.1"/>
<path d="M103.0 413.4H104.5V417.0H106.0H107.5V420.0H109.0H110.5V424.0H112.0H113.0V428.0H114.0H115.5V430.6H117.0H118.5V432.6H120.0H122.0V434.6H124.0H125.5V436.0H127.0H129.5V437.0H132.0H133.5V438.4H135.0H137.5V439.0H140.0H141.5V440.0H143.0H148.0V441.0H153.0H154.5V442.6H156.0H158.5V444.0H161.0H163.5V445.0H166.0H167.0V448.0H168.0H170.0V451.0H172.0H173.5V452.0H175.0H182.0H183.0V456.0H184.0H185.0V458.0H186.0H193.0H194.0V461.6H195.0H204.0V462.6H205.0H207.0V463.6H209.0H234.0H235.0V466.0H236.0H237.5V469.0H239.0H240.5V471.6H242.0H243.5V474.0H245.0H246.5V477.0H248.0H249.5V479.0H251.0H252.5V481.0H254.0H269.0H270.0V483.0H271.0H272.0V485.0H273.0H274.5V487.6H276.0H287.0H288.0V490.0H289.0H295.0H317.0V492.4H318.0H330.0V495.4H331.4H332.9V497.4H334.4H448.0V503.6H449.4H496.0" fill="none" stroke="#147a36" stroke-width="2.2" stroke-linejoin="miter"/>
<path d="M103.0 413.4H104.5V417.0H106.0H107.5V420.0H109.0H110.5V424.0H112.0H113.0V428.0H114.0H115.5V430.6H117.0H118.5V432.6H120.0H122.0V434.6H124.0H125.5V436.0H127.0H129.5V437.0H132.0H133.5V438.4H135.0H137.5V439.0H140.0H141.5V440.0H143.0H148.0V441.0H153.0H154.5V442.6H156.0H158.5V444.0H161.0H163.5V445.0H166.0H167.0V448.0H168.0H170.0V451.0H172.0H173.5V452.0H175.0H182.0H183.0V456.0H184.0H185.0V458.0H186.0H193.0H194.0V461.6H195.0H204.0V462.6H205.0H207.0V463.6H209.0H234.0H235.0V466.0H236.0H237.5V469.0H239.0H240.5V471.6H242.0H243.5V474.0H245.0H246.5V477.0H248.0H249.5V479.0H251.0H252.5V481.0H254.0H269.0H270.0V483.0H271.0H272.0V485.0H273.0H274.5V487.6H276.0H287.0H288.0V490.0H289.0H295.0H317.0V492.4H318.0H330.0V495.4H331.4H332.9V497.4H334.4H448.0V503.6H449.4H496.0" transform="translate(0 -1.3)" clip-path="url(#cpC)" fill="none" stroke="#147a36" stroke-width="1" stroke-dasharray="0.7 2.9 0.7 1.6 0.7 4.4"/>
<path d="M103.0 413.4H104.0V415.2H106.0V417.0H107.0H109.0V420.0H111.0H112.5V424.0H114.0H115.0V428.0H116.0V433.0H117.0V439.0H118.6H119.6V442.0H120.6V444.6H122.0H130.6V449.0H132.0H138.0V454.6H139.4H164.0V459.0H165.0H166.0V464.0H167.0H193.4V469.0H194.4H248.6V474.4H249.6H295.0H341.0V480.6H342.0H398.0V489.0H399.0H449.0V501.0H450.0H477.0V515.0H478.0H494.6V540.0H495.0" fill="none" stroke="#f05c14" stroke-width="2.1" stroke-linejoin="miter"/>
<path d="M103.0 413.4H104.0V415.2H106.0V417.0H107.0H109.0V420.0H111.0H112.5V424.0H114.0H115.0V428.0H116.0V433.0H117.0V439.0H118.6H119.6V442.0H120.6V444.6H122.0H130.6V449.0H132.0H138.0V454.6H139.4H164.0V459.0H165.0H166.0V464.0H167.0H193.4V469.0H194.4H248.6V474.4H249.6H295.0H341.0V480.6H342.0H398.0V489.0H399.0H449.0V501.0H450.0H477.0V515.0H478.0H494.6V540.0H495.0" transform="translate(0 -1.3)" clip-path="url(#cpC)" fill="none" stroke="#f05c14" stroke-width="1" stroke-dasharray="0.7 7.3 0.7 12.9"/>
<text transform="translate(93.7 663.6) scale(0.815 1)" font-size="12" font-weight="normal" text-anchor="end" fill="#0a0a0a"  stroke="#0a0a0a" stroke-width="0.30">0</text>
<text transform="translate(93.7 639.1) scale(0.815 1)" font-size="12" font-weight="normal" text-anchor="end" fill="#0a0a0a"  stroke="#0a0a0a" stroke-width="0.30">10</text>
<text transform="translate(93.7 614.7) scale(0.815 1)" font-size="12" font-weight="normal" text-anchor="end" fill="#0a0a0a"  stroke="#0a0a0a" stroke-width="0.30">20</text>
<text transform="translate(93.7 590.2) scale(0.815 1)" font-size="12" font-weight="normal" text-anchor="end" fill="#0a0a0a"  stroke="#0a0a0a" stroke-width="0.30">30</text>
<text transform="translate(93.7 565.7) scale(0.815 1)" font-size="12" font-weight="normal" text-anchor="end" fill="#0a0a0a"  stroke="#0a0a0a" stroke-width="0.30">40</text>
<text transform="translate(93.7 541.2) scale(0.815 1)" font-size="12" font-weight="normal" text-anchor="end" fill="#0a0a0a"  stroke="#0a0a0a" stroke-width="0.30">50</text>
<text transform="translate(93.7 516.8) scale(0.815 1)" font-size="12" font-weight="normal" text-anchor="end" fill="#0a0a0a"  stroke="#0a0a0a" stroke-width="0.30">60</text>
<text transform="translate(93.7 492.3) scale(0.815 1)" font-size="12" font-weight="normal" text-anchor="end" fill="#0a0a0a"  stroke="#0a0a0a" stroke-width="0.30">70</text>
<text transform="translate(93.7 467.8) scale(0.815 1)" font-size="12" font-weight="normal" text-anchor="end" fill="#0a0a0a"  stroke="#0a0a0a" stroke-width="0.30">80</text>
<text transform="translate(93.7 443.4) scale(0.815 1)" font-size="12" font-weight="normal" text-anchor="end" fill="#0a0a0a"  stroke="#0a0a0a" stroke-width="0.30">90</text>
<text transform="translate(93.7 418.9) scale(0.815 1)" font-size="12" font-weight="normal" text-anchor="end" fill="#0a0a0a"  stroke="#0a0a0a" stroke-width="0.30">100</text>
<text transform="translate(101.4 676.6) scale(0.800 1)" font-size="12" font-weight="normal" text-anchor="middle" fill="#0a0a0a"  stroke="#0a0a0a" stroke-width="0.30">0.0</text>
<text transform="translate(137.5 676.6) scale(0.800 1)" font-size="12" font-weight="normal" text-anchor="middle" fill="#0a0a0a"  stroke="#0a0a0a" stroke-width="0.30">0.5</text>
<text transform="translate(178.0 676.6) scale(0.800 1)" font-size="12" font-weight="normal" text-anchor="middle" fill="#0a0a0a"  stroke="#0a0a0a" stroke-width="0.30">1.0</text>
<text transform="translate(214.0 676.6) scale(0.800 1)" font-size="12" font-weight="normal" text-anchor="middle" fill="#0a0a0a"  stroke="#0a0a0a" stroke-width="0.30">1.5</text>
<text transform="translate(253.0 676.6) scale(0.800 1)" font-size="12" font-weight="normal" text-anchor="middle" fill="#0a0a0a"  stroke="#0a0a0a" stroke-width="0.30">2.0</text>
<text transform="translate(289.0 676.6) scale(0.800 1)" font-size="12" font-weight="normal" text-anchor="middle" fill="#0a0a0a"  stroke="#0a0a0a" stroke-width="0.30">2.5</text>
<text transform="translate(328.5 676.6) scale(0.800 1)" font-size="12" font-weight="normal" text-anchor="middle" fill="#0a0a0a"  stroke="#0a0a0a" stroke-width="0.30">3.0</text>
<text transform="translate(364.5 676.6) scale(0.800 1)" font-size="12" font-weight="normal" text-anchor="middle" fill="#0a0a0a"  stroke="#0a0a0a" stroke-width="0.30">3.5</text>
<text transform="translate(407.2 676.6) scale(0.800 1)" font-size="12" font-weight="normal" text-anchor="middle" fill="#0a0a0a"  stroke="#0a0a0a" stroke-width="0.30">4.0</text>
<text transform="translate(446.5 676.6) scale(0.800 1)" font-size="12" font-weight="normal" text-anchor="middle" fill="#0a0a0a"  stroke="#0a0a0a" stroke-width="0.30">4.5</text>
<text transform="translate(482.5 676.6) scale(0.800 1)" font-size="12" font-weight="normal" text-anchor="middle" fill="#0a0a0a"  stroke="#0a0a0a" stroke-width="0.30">5.0</text>
<text transform="translate(74.4 536.8) rotate(-90) scale(0.980 1)" font-size="14.3" text-anchor="middle" fill="#0a0a0a" stroke="#0a0a0a" stroke-width="0.2">Percent event-free survival</text>
<text transform="translate(295.7 693.4) scale(1.020 1)" font-size="13.6" font-weight="normal" text-anchor="middle" fill="#0a0a0a"  stroke="#0a0a0a" stroke-width="0.20">Follow-up (years)</text>
<text transform="translate(35.8 702.6) scale(0.950 1)" font-size="14.5" font-weight="normal" text-anchor="start" fill="#0a0a0a"  stroke="#0a0a0a" stroke-width="0.20">Number</text>
<text transform="translate(35.8 717.4) scale(0.930 1)" font-size="14.5" font-weight="normal" text-anchor="start" fill="#0a0a0a"  stroke="#0a0a0a" stroke-width="0.20">at risk</text>
<text transform="translate(102.0 717.4) scale(1.030 1)" font-size="14.5" font-weight="normal" text-anchor="middle" fill="#0a0a0a"  stroke="#0a0a0a" stroke-width="0.20">368</text>
<text transform="translate(177.3 717.4) scale(1.030 1)" font-size="14.5" font-weight="normal" text-anchor="middle" fill="#0a0a0a"  stroke="#0a0a0a" stroke-width="0.20">243</text>
<text transform="translate(252.3 717.4) scale(1.030 1)" font-size="14.5" font-weight="normal" text-anchor="middle" fill="#0a0a0a"  stroke="#0a0a0a" stroke-width="0.20">196</text>
<text transform="translate(329.0 717.4) scale(1.030 1)" font-size="14.5" font-weight="normal" text-anchor="middle" fill="#0a0a0a"  stroke="#0a0a0a" stroke-width="0.20">155</text>
<text transform="translate(406.4 717.4) scale(1.030 1)" font-size="14.5" font-weight="normal" text-anchor="middle" fill="#0a0a0a"  stroke="#0a0a0a" stroke-width="0.20">88</text>
<text transform="translate(483.0 717.4) scale(1.030 1)" font-size="14.5" font-weight="normal" text-anchor="middle" fill="#0a0a0a"  stroke="#0a0a0a" stroke-width="0.20">43</text>
<text x="35.6" y="393.2" font-size="23.5" font-weight="bold" textLength="12.4" lengthAdjust="spacingAndGlyphs" fill="#0a0a0a" stroke="#0a0a0a" stroke-width="0.9">C</text>
<text x="76.8" y="393.2" font-size="21" font-weight="bold" textLength="270.7" lengthAdjust="spacingAndGlyphs" fill="#0a0a0a">Cardiac-related hospitalisation</text>
<text transform="translate(117.6 630.7) scale(0.762 1)" font-size="12.2" font-weight="bold" text-anchor="start" fill="#0a0a0a"  stroke="#0a0a0a" stroke-width="0.25">Comparison of all survival curves:</text>
<text x="117.4" y="645.5" font-size="12.2" font-weight="bold" fill="#0a0a0a" stroke="#0a0a0a" stroke-width="0.2" textLength="34.6" lengthAdjust="spacingAndGlyphs"><tspan font-style="italic">p</tspan> Coxph</text>
<text x="155.0" y="645.5" font-size="12.2" font-weight="bold" fill="#0a0a0a" stroke="#0a0a0a" stroke-width="0.2" textLength="27.0" lengthAdjust="spacingAndGlyphs">=0.02</text>
</g>
<g>
<rect x="609.6" y="413.2" width="397.4" height="248.7" fill="#f2eedd"/>
<path d="M609.5 413.2V661.9" fill="none" stroke="#d9d3c5" stroke-width="0.5"/>
<path d="M609.2 661.9H1007.0" fill="none" stroke="#2e2a28" stroke-width="1.3"/>
<path d="M609.5 661.9h-4.4M609.5 649.6h-3.8M609.5 637.2h-4.4M609.5 624.9h-3.8M609.5 612.5h-4.4M609.5 600.2h-3.8M609.5 587.8h-4.4M609.5 575.5h-3.8M609.5 563.1h-4.4M609.5 550.8h-3.8M609.5 538.4h-4.4M609.5 526.1h-3.8M609.5 513.8h-4.4M609.5 501.4h-3.8M609.5 489.1h-4.4M609.5 476.7h-3.8M609.5 464.4h-4.4M609.5 452.0h-3.8M609.5 439.7h-4.4M609.5 427.3h-3.8M609.5 415.0h-4.4M609.6 661.9v4.2M617.2 661.9v3.6M624.9 661.9v3.6M632.5 661.9v3.6M640.2 661.9v3.6M647.8 661.9v4.2M655.4 661.9v3.6M663.1 661.9v3.6M670.7 661.9v3.6M678.4 661.9v3.6M686.0 661.9v4.2M693.6 661.9v3.6M701.3 661.9v3.6M708.9 661.9v3.6M716.6 661.9v3.6M724.2 661.9v4.2M731.8 661.9v3.6M739.5 661.9v3.6M747.1 661.9v3.6M754.8 661.9v3.6M762.4 661.9v4.2M770.0 661.9v3.6M777.7 661.9v3.6M785.3 661.9v3.6M793.0 661.9v3.6M800.6 661.9v4.2M808.2 661.9v3.6M815.9 661.9v3.6M823.5 661.9v3.6M831.2 661.9v3.6M838.8 661.9v4.2M846.4 661.9v3.6M854.1 661.9v3.6M861.7 661.9v3.6M869.4 661.9v3.6M877.0 661.9v4.2M884.6 661.9v3.6M892.3 661.9v3.6M899.9 661.9v3.6M907.6 661.9v3.6M915.2 661.9v4.2M922.8 661.9v3.6M930.5 661.9v3.6M938.1 661.9v3.6M945.8 661.9v3.6M953.4 661.9v4.2M961.0 661.9v3.6M968.7 661.9v3.6M976.3 661.9v3.6M984.0 661.9v3.6M991.6 661.9v4.2M999.2 661.9v3.6M1006.9 661.9v3.6M1006.6 661.9v3.2" fill="none" stroke="#262322" stroke-width="1.3"/>
<clipPath id="cpD"><rect x="846.4" y="413.2" width="397.4" height="248.7"/></clipPath>
<path d="M610.0 414.0V435.0H610.6V445.0H611.4V451.0H613.0H614.0V455.0H615.0V461.0H616.6V468.6H617.4H624.0V472.0H625.0H626.5V474.0H628.0H629.0V477.0H630.0H631.0V481.0H632.0H635.0V486.0H636.6H637.6V491.0H638.6H639.8V494.0H641.0H645.0H646.0V497.0H647.0H648.0V500.0H649.0V503.0H650.6H653.0V507.0H654.6V510.6H655.4H664.0V513.0H665.4H666.4V517.0H667.4V526.6H669.0H689.0V529.6H690.4H694.0V533.0H695.4H701.4V536.4H703.0H737.4V539.4H739.0H742.0V542.6H743.4H765.0V546.0H766.0H772.0V549.6H773.0H803.0H820.0V553.0H821.4H823.2V555.0H825.0H827.0V558.0H829.0H832.0V560.0H835.0V562.6H836.0H844.0V569.0H845.0H860.0V576.4H861.0H873.0V580.4H874.4H884.0V585.0H885.0H886.5V589.0H888.0H894.0V592.6H895.4H911.6V598.0H912.6H930.6V604.0H931.6H990.0" fill="none" stroke="#c6c516" stroke-width="2.1" stroke-linejoin="miter"/>
<path d="M610.0 414.0V435.0H610.6V445.0H611.4V451.0H613.0H614.0V455.0H615.0V461.0H616.6V468.6H617.4H624.0V472.0H625.0H626.5V474.0H628.0H629.0V477.0H630.0H631.0V481.0H632.0H635.0V486.0H636.6H637.6V491.0H638.6H639.8V494.0H641.0H645.0H646.0V497.0H647.0H648.0V500.0H649.0V503.0H650.6H653.0V507.0H654.6V510.6H655.4H664.0V513.0H665.4H666.4V517.0H667.4V526.6H669.0H689.0V529.6H690.4H694.0V533.0H695.4H701.4V536.4H703.0H737.4V539.4H739.0H742.0V542.6H743.4H765.0V546.0H766.0H772.0V549.6H773.0H803.0H820.0V553.0H821.4H823.2V555.0H825.0H827.0V558.0H829.0H832.0V560.0H835.0V562.6H836.0H844.0V569.0H845.0H860.0V576.4H861.0H873.0V580.4H874.4H884.0V585.0H885.0H886.5V589.0H888.0H894.0V592.6H895.4H911.6V598.0H912.6H930.6V604.0H931.6H990.0" transform="translate(0 -1.3)" clip-path="url(#cpD)" fill="none" stroke="#c6c516" stroke-width="1" stroke-dasharray="0.7 5.3 0.7 9.1"/>
<path d="M610.0 414.0V429.0H611.0V441.0H612.6V446.0H614.0V450.0H615.0H618.0V454.0H619.0H622.0V457.0H623.0H624.0V463.0H625.0V469.0H626.6V475.0H628.0V480.0H629.0H636.0V485.0H637.0V489.0H638.6V492.6H639.6H645.6V497.0H646.6V500.6H647.4H671.4V504.6H672.4H673.4V508.4H674.4H701.0V512.4H702.0H722.4V516.0H723.4H730.4V520.4H731.4H742.4V524.4H743.4H755.4V528.4H756.4H759.4V535.4H760.4H772.6V540.0H773.6H781.4V543.6H782.4H803.0V547.4H804.0H818.0V552.4H819.4H847.4V556.0H848.6H853.0V560.4H854.0H889.4V564.4H890.4H932.0V569.0H933.0H934.2V574.6H935.4H956.4V580.4H957.4H977.0V588.0H978.0H985.0V596.0H986.0H989.4V602.6H990.4H1002.6V615.0H1003.0" fill="none" stroke="#f05c14" stroke-width="2.1" stroke-linejoin="miter"/>
<path d="M610.0 414.0V429.0H611.0V441.0H612.6V446.0H614.0V450.0H615.0H618.0V454.0H619.0H622.0V457.0H623.0H624.0V463.0H625.0V469.0H626.6V475.0H628.0V480.0H629.0H636.0V485.0H637.0V489.0H638.6V492.6H639.6H645.6V497.0H646.6V500.6H647.4H671.4V504.6H672.4H673.4V508.4H674.4H701.0V512.4H702.0H722.4V516.0H723.4H730.4V520.4H731.4H742.4V524.4H743.4H755.4V528.4H756.4H759.4V535.4H760.4H772.6V540.0H773.6H781.4V543.6H782.4H803.0V547.4H804.0H818.0V552.4H819.4H847.4V556.0H848.6H853.0V560.4H854.0H889.4V564.4H890.4H932.0V569.0H933.0H934.2V574.6H935.4H956.4V580.4H957.4H977.0V588.0H978.0H985.0V596.0H986.0H989.4V602.6H990.4H1002.6V615.0H1003.0" transform="translate(0 -1.3)" clip-path="url(#cpD)" fill="none" stroke="#f05c14" stroke-width="1" stroke-dasharray="0.7 7.3 0.7 12.9"/>
<path d="M610.0 414.0V439.0V442.0H611.0V449.0H612.6V459.0H614.0V469.0H615.0V483.0H616.0V493.4H617.0H622.0V497.0H623.0V503.0H624.0V510.0H625.0V518.0H626.6H627.6V523.0H628.6H629.6V528.0H630.6H631.8V531.4H633.0H634.5V535.0H636.0H637.0V537.2H639.0V539.4H640.0H649.4V545.0H650.4V550.6H652.0H653.0V555.0H654.0H655.0V558.0H656.0H657.5V561.0H659.0H661.0V564.0H663.0H673.4V567.0H674.4H696.0V570.0H697.4H699.4V572.0H701.4V576.6H703.0H725.0V582.6H726.0H734.0V586.0H735.4V589.0H736.6H745.4V592.0H746.4H752.4V597.4H753.4H760.4V600.6H761.6H766.0V603.4H767.0H783.6V607.0H784.6H803.0H822.4V611.0H823.4H824.7V614.0H826.0H827.0V616.6H828.0H829.7V619.4H831.4H877.0V626.4H878.0H892.0V630.4H893.0H910.6V633.4H911.4H998.0V639.6H998.4" fill="none" stroke="#a11a1a" stroke-width="2.1" stroke-linejoin="miter"/>
<path d="M610.0 414.0V439.0V442.0H611.0V449.0H612.6V459.0H614.0V469.0H615.0V483.0H616.0V493.4H617.0H622.0V497.0H623.0V503.0H624.0V510.0H625.0V518.0H626.6H627.6V523.0H628.6H629.6V528.0H630.6H631.8V531.4H633.0H634.5V535.0H636.0H637.0V537.2H639.0V539.4H640.0H649.4V545.0H650.4V550.6H652.0H653.0V555.0H654.0H655.0V558.0H656.0H657.5V561.0H659.0H661.0V564.0H663.0H673.4V567.0H674.4H696.0V570.0H697.4H699.4V572.0H701.4V576.6H703.0H725.0V582.6H726.0H734.0V586.0H735.4V589.0H736.6H745.4V592.0H746.4H752.4V597.4H753.4H760.4V600.6H761.6H766.0V603.4H767.0H783.6V607.0H784.6H803.0H822.4V611.0H823.4H824.7V614.0H826.0H827.0V616.6H828.0H829.7V619.4H831.4H877.0V626.4H878.0H892.0V630.4H893.0H910.6V633.4H911.4H998.0V639.6H998.4" transform="translate(0 -1.3)" clip-path="url(#cpD)" fill="none" stroke="#a11a1a" stroke-width="1" stroke-dasharray="0.7 11.3 0.7 17.3"/>
<path d="M610.0 414.0H611.0V422.0H612.0H613.0V431.0H614.0H615.3V437.0H616.6H617.6V442.0H618.6H619.6V447.0H620.6V452.0H622.0H623.0V456.0H624.0H625.5V459.0H627.0H628.5V461.4H630.0H631.5V463.0H633.0H636.5V464.0H640.0H641.5V465.4H643.0H645.5V466.6H648.0H650.5V468.0H653.0H656.5V469.0H660.0H661.5V471.0H663.0H665.0V472.6H667.0H668.5V476.0H670.0H671.5V478.0H673.0H674.0V482.0H675.0H676.5V484.6H678.0H679.0V488.0H680.0H681.5V489.4H683.0H688.6V492.6H690.0H691.0V496.6H692.0H694.0V499.0H696.0H697.0V501.0H698.0H699.5V503.0H701.0H702.0V506.0H703.0H711.0H712.0V507.0H713.0H714.5V508.4H716.0H731.0H732.0V511.0H733.0H741.0H742.0V513.0H743.0H744.2V516.0H745.4H746.7V519.0H748.0H749.5V521.4H751.0H752.5V524.0H754.0H755.5V527.0H757.0H758.5V530.0H760.0H772.0H773.0V531.4H774.0H776.0V533.0H778.0H779.5V535.0H781.0H782.5V536.4H784.0H787.0V538.0H790.0H792.0V539.0H794.0H796.5V540.6H799.0H800.5V543.4H802.0H821.0H822.0V546.0H823.0H825.0V548.0H827.0H830.0V549.4H833.0H834.5V551.4H836.0H838.0V553.0H840.0H841.0V555.4H842.0H859.0H860.0V557.4H861.0H863.0V559.0H865.0H889.0H890.0V560.4H891.0H900.0V563.0H901.4H936.0V566.6H937.4H957.0V570.0H958.6H970.0V575.0H971.4H1004.0" fill="none" stroke="#147a36" stroke-width="2.2" stroke-linejoin="miter"/>
<path d="M610.0 414.0H611.0V422.0H612.0H613.0V431.0H614.0H615.3V437.0H616.6H617.6V442.0H618.6H619.6V447.0H620.6V452.0H622.0H623.0V456.0H624.0H625.5V459.0H627.0H628.5V461.4H630.0H631.5V463.0H633.0H636.5V464.0H640.0H641.5V465.4H643.0H645.5V466.6H648.0H650.5V468.0H653.0H656.5V469.0H660.0H661.5V471.0H663.0H665.0V472.6H667.0H668.5V476.0H670.0H671.5V478.0H673.0H674.0V482.0H675.0H676.5V484.6H678.0H679.0V488.0H680.0H681.5V489.4H683.0H688.6V492.6H690.0H691.0V496.6H692.0H694.0V499.0H696.0H697.0V501.0H698.0H699.5V503.0H701.0H702.0V506.0H703.0H711.0H712.0V507.0H713.0H714.5V508.4H716.0H731.0H732.0V511.0H733.0H741.0H742.0V513.0H743.0H744.2V516.0H745.4H746.7V519.0H748.0H749.5V521.4H751.0H752.5V524.0H754.0H755.5V527.0H757.0H758.5V530.0H760.0H772.0H773.0V531.4H774.0H776.0V533.0H778.0H779.5V535.0H781.0H782.5V536.4H784.0H787.0V538.0H790.0H792.0V539.0H794.0H796.5V540.6H799.0H800.5V543.4H802.0H821.0H822.0V546.0H823.0H825.0V548.0H827.0H830.0V549.4H833.0H834.5V551.4H836.0H838.0V553.0H840.0H841.0V555.4H842.0H859.0H860.0V557.4H861.0H863.0V559.0H865.0H889.0H890.0V560.4H891.0H900.0V563.0H901.4H936.0V566.6H937.4H957.0V570.0H958.6H970.0V575.0H971.4H1004.0" transform="translate(0 -1.3)" clip-path="url(#cpD)" fill="none" stroke="#147a36" stroke-width="1" stroke-dasharray="0.7 2.9 0.7 1.6 0.7 4.4"/>
<text transform="translate(601.7 663.6) scale(0.815 1)" font-size="12" font-weight="normal" text-anchor="end" fill="#0a0a0a"  stroke="#0a0a0a" stroke-width="0.30">0</text>
<text transform="translate(601.7 639.1) scale(0.815 1)" font-size="12" font-weight="normal" text-anchor="end" fill="#0a0a0a"  stroke="#0a0a0a" stroke-width="0.30">10</text>
<text transform="translate(601.7 614.7) scale(0.815 1)" font-size="12" font-weight="normal" text-anchor="end" fill="#0a0a0a"  stroke="#0a0a0a" stroke-width="0.30">20</text>
<text transform="translate(601.7 590.2) scale(0.815 1)" font-size="12" font-weight="normal" text-anchor="end" fill="#0a0a0a"  stroke="#0a0a0a" stroke-width="0.30">30</text>
<text transform="translate(601.7 565.7) scale(0.815 1)" font-size="12" font-weight="normal" text-anchor="end" fill="#0a0a0a"  stroke="#0a0a0a" stroke-width="0.30">40</text>
<text transform="translate(601.7 541.2) scale(0.815 1)" font-size="12" font-weight="normal" text-anchor="end" fill="#0a0a0a"  stroke="#0a0a0a" stroke-width="0.30">50</text>
<text transform="translate(601.7 516.8) scale(0.815 1)" font-size="12" font-weight="normal" text-anchor="end" fill="#0a0a0a"  stroke="#0a0a0a" stroke-width="0.30">60</text>
<text transform="translate(601.7 492.3) scale(0.815 1)" font-size="12" font-weight="normal" text-anchor="end" fill="#0a0a0a"  stroke="#0a0a0a" stroke-width="0.30">70</text>
<text transform="translate(601.7 467.8) scale(0.815 1)" font-size="12" font-weight="normal" text-anchor="end" fill="#0a0a0a"  stroke="#0a0a0a" stroke-width="0.30">80</text>
<text transform="translate(601.7 443.4) scale(0.815 1)" font-size="12" font-weight="normal" text-anchor="end" fill="#0a0a0a"  stroke="#0a0a0a" stroke-width="0.30">90</text>
<text transform="translate(601.7 418.9) scale(0.815 1)" font-size="12" font-weight="normal" text-anchor="end" fill="#0a0a0a"  stroke="#0a0a0a" stroke-width="0.30">100</text>
<text transform="translate(609.4 676.6) scale(0.800 1)" font-size="12" font-weight="normal" text-anchor="middle" fill="#0a0a0a"  stroke="#0a0a0a" stroke-width="0.30">0.0</text>
<text transform="translate(645.5 676.6) scale(0.800 1)" font-size="12" font-weight="normal" text-anchor="middle" fill="#0a0a0a"  stroke="#0a0a0a" stroke-width="0.30">0.5</text>
<text transform="translate(686.0 676.6) scale(0.800 1)" font-size="12" font-weight="normal" text-anchor="middle" fill="#0a0a0a"  stroke="#0a0a0a" stroke-width="0.30">1.0</text>
<text transform="translate(722.0 676.6) scale(0.800 1)" font-size="12" font-weight="normal" text-anchor="middle" fill="#0a0a0a"  stroke="#0a0a0a" stroke-width="0.30">1.5</text>
<text transform="translate(761.0 676.6) scale(0.800 1)" font-size="12" font-weight="normal" text-anchor="middle" fill="#0a0a0a"  stroke="#0a0a0a" stroke-width="0.30">2.0</text>
<text transform="translate(797.0 676.6) scale(0.800 1)" font-size="12" font-weight="normal" text-anchor="middle" fill="#0a0a0a"  stroke="#0a0a0a" stroke-width="0.30">2.5</text>
<text transform="translate(836.5 676.6) scale(0.800 1)" font-size="12" font-weight="normal" text-anchor="middle" fill="#0a0a0a"  stroke="#0a0a0a" stroke-width="0.30">3.0</text>
<text transform="translate(872.5 676.6) scale(0.800 1)" font-size="12" font-weight="normal" text-anchor="middle" fill="#0a0a0a"  stroke="#0a0a0a" stroke-width="0.30">3.5</text>
<text transform="translate(915.2 676.6) scale(0.800 1)" font-size="12" font-weight="normal" text-anchor="middle" fill="#0a0a0a"  stroke="#0a0a0a" stroke-width="0.30">4.0</text>
<text transform="translate(954.5 676.6) scale(0.800 1)" font-size="12" font-weight="normal" text-anchor="middle" fill="#0a0a0a"  stroke="#0a0a0a" stroke-width="0.30">4.5</text>
<text transform="translate(990.5 676.6) scale(0.800 1)" font-size="12" font-weight="normal" text-anchor="middle" fill="#0a0a0a"  stroke="#0a0a0a" stroke-width="0.30">5.0</text>
<text transform="translate(579.0 536.6) rotate(-90) scale(0.980 1)" font-size="14.3" text-anchor="middle" fill="#0a0a0a" stroke="#0a0a0a" stroke-width="0.2">Percent event-free survival</text>
<text transform="translate(803.7 693.4) scale(1.020 1)" font-size="13.6" font-weight="normal" text-anchor="middle" fill="#0a0a0a"  stroke="#0a0a0a" stroke-width="0.20">Follow-up (years)</text>
<text transform="translate(543.8 702.6) scale(0.950 1)" font-size="14.5" font-weight="normal" text-anchor="start" fill="#0a0a0a"  stroke="#0a0a0a" stroke-width="0.20">Number</text>
<text transform="translate(543.8 717.4) scale(0.930 1)" font-size="14.5" font-weight="normal" text-anchor="start" fill="#0a0a0a"  stroke="#0a0a0a" stroke-width="0.20">at risk</text>
<text transform="translate(610.0 717.4) scale(1.030 1)" font-size="14.5" font-weight="normal" text-anchor="middle" fill="#0a0a0a"  stroke="#0a0a0a" stroke-width="0.20">368</text>
<text transform="translate(685.3 717.4) scale(1.030 1)" font-size="14.5" font-weight="normal" text-anchor="middle" fill="#0a0a0a"  stroke="#0a0a0a" stroke-width="0.20">236</text>
<text transform="translate(760.3 717.4) scale(1.030 1)" font-size="14.5" font-weight="normal" text-anchor="middle" fill="#0a0a0a"  stroke="#0a0a0a" stroke-width="0.20">186</text>
<text transform="translate(837.0 717.4) scale(1.030 1)" font-size="14.5" font-weight="normal" text-anchor="middle" fill="#0a0a0a"  stroke="#0a0a0a" stroke-width="0.20">144</text>
<text transform="translate(914.4 717.4) scale(1.030 1)" font-size="14.5" font-weight="normal" text-anchor="middle" fill="#0a0a0a"  stroke="#0a0a0a" stroke-width="0.20">81</text>
<text transform="translate(991.0 717.4) scale(1.030 1)" font-size="14.5" font-weight="normal" text-anchor="middle" fill="#0a0a0a"  stroke="#0a0a0a" stroke-width="0.20">38</text>
<text x="544.2" y="393.2" font-size="23.5" font-weight="bold" textLength="11.8" lengthAdjust="spacingAndGlyphs" fill="#0a0a0a" stroke="#0a0a0a" stroke-width="0.9">D</text>
<text x="586.0" y="393.2" font-size="21" font-weight="bold" textLength="60.5" lengthAdjust="spacingAndGlyphs" fill="#0a0a0a">MACCE</text>
<text transform="translate(625.6 630.7) scale(0.762 1)" font-size="12.2" font-weight="bold" text-anchor="start" fill="#0a0a0a"  stroke="#0a0a0a" stroke-width="0.25">Comparison of all survival curves:</text>
<text x="625.4" y="645.5" font-size="12.2" font-weight="bold" fill="#0a0a0a" stroke="#0a0a0a" stroke-width="0.2" textLength="34.6" lengthAdjust="spacingAndGlyphs"><tspan font-style="italic">p</tspan> Coxph</text>
<text x="663.0" y="645.5" font-size="12.2" font-weight="bold" fill="#0a0a0a" stroke="#0a0a0a" stroke-width="0.2" textLength="43.0" lengthAdjust="spacingAndGlyphs">&lt;0.0001*</text>
</g>
<text transform="translate(323.6 60.6) scale(0.795 1)" font-size="12.5" font-weight="normal" text-anchor="start" fill="#0a0a0a"  stroke="#0a0a0a" stroke-width="0.45">Median survival:</text>
<path d="M330.0 66.0h12.2M336.0 66.0v-2" stroke="#147a36" stroke-width="1.9" fill="none"/>
<text transform="translate(348.6 73.6) scale(0.760 1)" font-size="12.5" font-weight="normal" text-anchor="start" fill="#0a0a0a"  stroke="#0a0a0a" stroke-width="0.35">NEF-HG AS (n=147): 5.1 years<tspan font-size="7.5" font-weight="bold" dy="-4.5">b,d</tspan></text>
<path d="M330.0 80.4h12.2M336.0 80.4v-2" stroke="#c6c516" stroke-width="1.9" fill="none"/>
<text transform="translate(348.6 86.6) scale(0.760 1)" font-size="12.5" font-weight="normal" text-anchor="start" fill="#0a0a0a"  stroke="#0a0a0a" stroke-width="0.35">PLF-LG AS (n=77): 3.3 years<tspan font-size="7.5" font-weight="bold" dy="-4.5">a,d</tspan></text>
<path d="M330.0 95.4h12.2M336.0 95.4v-2" stroke="#f05c14" stroke-width="1.9" fill="none"/>
<text transform="translate(348.6 99.7) scale(0.760 1)" font-size="12.5" font-weight="normal" text-anchor="start" fill="#0a0a0a"  stroke="#0a0a0a" stroke-width="0.35">LEF-HG AS (n=63): 4.6 years<tspan font-size="7.5" font-weight="bold" dy="-4.5">d</tspan></text>
<path d="M330.0 109.0h12.2M336.0 109.0v-2" stroke="#a11a1a" stroke-width="1.9" fill="none"/>
<text transform="translate(348.6 113.0) scale(0.760 1)" font-size="12.5" font-weight="normal" text-anchor="start" fill="#0a0a0a"  stroke="#0a0a0a" stroke-width="0.35">LEF-LG AS (n=81): 1.3 years<tspan font-size="7.5" font-weight="bold" dy="-4.5">a,b,c</tspan></text>
<text transform="translate(839.4 227.0) scale(0.795 1)" font-size="12.5" font-weight="normal" text-anchor="start" fill="#0a0a0a"  stroke="#0a0a0a" stroke-width="0.45">Median survival:</text>
<path d="M848.6 236.0h12.2M854.6 236.0v-2" stroke="#147a36" stroke-width="1.9" fill="none"/>
<text transform="translate(864.6 240.0) scale(0.760 1)" font-size="12.5" font-weight="normal" text-anchor="start" fill="#0a0a0a"  stroke="#0a0a0a" stroke-width="0.35">NEF-HG AS (n=147): 6.5 years<tspan font-size="7.5" font-weight="bold" dy="-4.5">b,d</tspan></text>
<path d="M848.6 249.0h12.2M854.6 249.0v-2" stroke="#c6c516" stroke-width="1.9" fill="none"/>
<text transform="translate(864.6 253.5) scale(0.760 1)" font-size="12.5" font-weight="normal" text-anchor="start" fill="#0a0a0a"  stroke="#0a0a0a" stroke-width="0.35">PLF-LG AS (n=77): 5.7 years<tspan font-size="7.5" font-weight="bold" dy="-4.5">a,d</tspan></text>
<path d="M848.6 262.4h12.2M854.6 262.4v-2" stroke="#f05c14" stroke-width="1.9" fill="none"/>
<text transform="translate(864.6 266.6) scale(0.760 1)" font-size="12.5" font-weight="normal" text-anchor="start" fill="#0a0a0a"  stroke="#0a0a0a" stroke-width="0.35">LEF-HG AS (n=63): 6.1 years<tspan font-size="7.5" font-weight="bold" dy="-4.5">d</tspan></text>
<path d="M848.6 275.6h12.2M854.6 275.6v-2" stroke="#a11a1a" stroke-width="1.9" fill="none"/>
<text transform="translate(864.6 279.6) scale(0.760 1)" font-size="12.5" font-weight="normal" text-anchor="start" fill="#0a0a0a"  stroke="#0a0a0a" stroke-width="0.35">LEF-LG AS (n=81): 2.0 years<tspan font-size="7.5" font-weight="bold" dy="-4.5">a,b,d</tspan></text>
<text transform="translate(319.4 599.4) scale(0.795 1)" font-size="12.5" font-weight="normal" text-anchor="start" fill="#0a0a0a"  stroke="#0a0a0a" stroke-width="0.45">Median survival:</text>
<path d="M326.0 607.4h12.2M332.0 607.4v-2" stroke="#147a36" stroke-width="1.9" fill="none"/>
<text transform="translate(344.4 612.6) scale(0.760 1)" font-size="12.5" font-weight="normal" text-anchor="start" fill="#0a0a0a"  stroke="#0a0a0a" stroke-width="0.35">NEF-HG AS (n=147): undefined</text>
<path d="M326.0 621.6h12.2M332.0 621.6v-2" stroke="#c6c516" stroke-width="1.9" fill="none"/>
<text transform="translate(344.4 625.6) scale(0.760 1)" font-size="12.5" font-weight="normal" text-anchor="start" fill="#0a0a0a"  stroke="#0a0a0a" stroke-width="0.35">PLF-LG AS (n=77): undefined</text>
<path d="M326.0 635.6h12.2M332.0 635.6v-2" stroke="#f05c14" stroke-width="1.9" fill="none"/>
<text transform="translate(344.4 638.6) scale(0.760 1)" font-size="12.5" font-weight="normal" text-anchor="start" fill="#0a0a0a"  stroke="#0a0a0a" stroke-width="0.35">LEF-HG AS (n=63): 5.2 years</text>
<path d="M326.0 648.4h12.2M332.0 648.4v-2" stroke="#a11a1a" stroke-width="1.9" fill="none"/>
<text transform="translate(344.4 651.6) scale(0.760 1)" font-size="12.5" font-weight="normal" text-anchor="start" fill="#0a0a0a"  stroke="#0a0a0a" stroke-width="0.35">LEF-LG AS (n=81): 4.0 years</text>
<text transform="translate(823.4 435.6) scale(0.795 1)" font-size="12.5" font-weight="normal" text-anchor="start" fill="#0a0a0a"  stroke="#0a0a0a" stroke-width="0.45">Median event-free survival:</text>
<path d="M832.0 442.6h12.2M838.0 442.6v-2" stroke="#147a36" stroke-width="1.9" fill="none"/>
<text transform="translate(848.6 449.0) scale(0.760 1)" font-size="12.5" font-weight="normal" text-anchor="start" fill="#0a0a0a"  stroke="#0a0a0a" stroke-width="0.35">NEF-HG AS (n=147): 2.4 years<tspan font-size="7.5" font-weight="bold" dy="-4.5">d</tspan></text>
<path d="M832.0 458.0h12.2M838.0 458.0v-2" stroke="#c6c516" stroke-width="1.9" fill="none"/>
<text transform="translate(848.6 464.0) scale(0.760 1)" font-size="12.5" font-weight="normal" text-anchor="start" fill="#0a0a0a"  stroke="#0a0a0a" stroke-width="0.35">PLF-LG AS (n=77): 1.7 years<tspan font-size="7.5" font-weight="bold" dy="-4.5">d</tspan></text>
<path d="M832.0 473.4h12.2M838.0 473.4v-2" stroke="#f05c14" stroke-width="1.9" fill="none"/>
<text transform="translate(848.6 479.0) scale(0.760 1)" font-size="12.5" font-weight="normal" text-anchor="start" fill="#0a0a0a"  stroke="#0a0a0a" stroke-width="0.35">LEF-HG AS (n=63): 2.1 years<tspan font-size="7.5" font-weight="bold" dy="-4.5">d</tspan></text>
<path d="M832.0 489.4h12.2M838.0 489.4v-2" stroke="#a11a1a" stroke-width="1.9" fill="none"/>
<text transform="translate(848.6 494.0) scale(0.760 1)" font-size="12.5" font-weight="normal" text-anchor="start" fill="#0a0a0a"  stroke="#0a0a0a" stroke-width="0.35">LEF-LG AS (n=81): 0.4 years<tspan font-size="7.5" font-weight="bold" dy="-4.5">a,b,c</tspan></text>
<text transform="translate(475.0 154.4) scale(1.000 1)" font-size="7.6" font-weight="normal" text-anchor="start" fill="#1a1a1a"  stroke="#1a1a1a" stroke-width="0.12">b, d</text>
<text transform="translate(484.0 180.6) scale(1.000 1)" font-size="7.6" font-weight="normal" text-anchor="start" fill="#1a1a1a"  stroke="#1a1a1a" stroke-width="0.12">d</text>
<text transform="translate(469.6 195.0) scale(1.000 1)" font-size="7.6" font-weight="normal" text-anchor="start" fill="#1a1a1a"  stroke="#1a1a1a" stroke-width="0.12">a, d</text>
<text transform="translate(459.0 233.0) scale(1.000 1)" font-size="7.6" font-weight="normal" text-anchor="start" fill="#1a1a1a"  stroke="#1a1a1a" stroke-width="0.12">a, b, c</text>
<text transform="translate(990.0 110.4) scale(1.000 1)" font-size="7.6" font-weight="normal" text-anchor="start" fill="#1a1a1a"  stroke="#1a1a1a" stroke-width="0.12">b, d</text>
<text transform="translate(998.0 136.0) scale(1.000 1)" font-size="7.6" font-weight="normal" text-anchor="start" fill="#1a1a1a"  stroke="#1a1a1a" stroke-width="0.12">d</text>
<text transform="translate(986.0 159.5) scale(1.000 1)" font-size="7.6" font-weight="normal" text-anchor="start" fill="#1a1a1a"  stroke="#1a1a1a" stroke-width="0.12">a, d</text>
<text transform="translate(975.4 194.4) scale(1.000 1)" font-size="7.6" font-weight="normal" text-anchor="start" fill="#1a1a1a"  stroke="#1a1a1a" stroke-width="0.12">a, b, c</text>
<text transform="translate(994.6 571.4) scale(1.000 1)" font-size="7.6" font-weight="normal" text-anchor="start" fill="#1a1a1a"  stroke="#1a1a1a" stroke-width="0.12">d</text>
<text transform="translate(964.6 601.6) scale(1.000 1)" font-size="7.6" font-weight="normal" text-anchor="start" fill="#1a1a1a"  stroke="#1a1a1a" stroke-width="0.12">d</text>
<text transform="translate(1006.0 615.0) scale(1.000 1)" font-size="7.6" font-weight="normal" text-anchor="start" fill="#1a1a1a"  stroke="#1a1a1a" stroke-width="0.12">d</text>
<text transform="translate(974.0 642.6) scale(1.000 1)" font-size="7.6" font-weight="normal" text-anchor="start" fill="#1a1a1a"  stroke="#1a1a1a" stroke-width="0.12">a, b, c</text>
</svg>
</body></html>
